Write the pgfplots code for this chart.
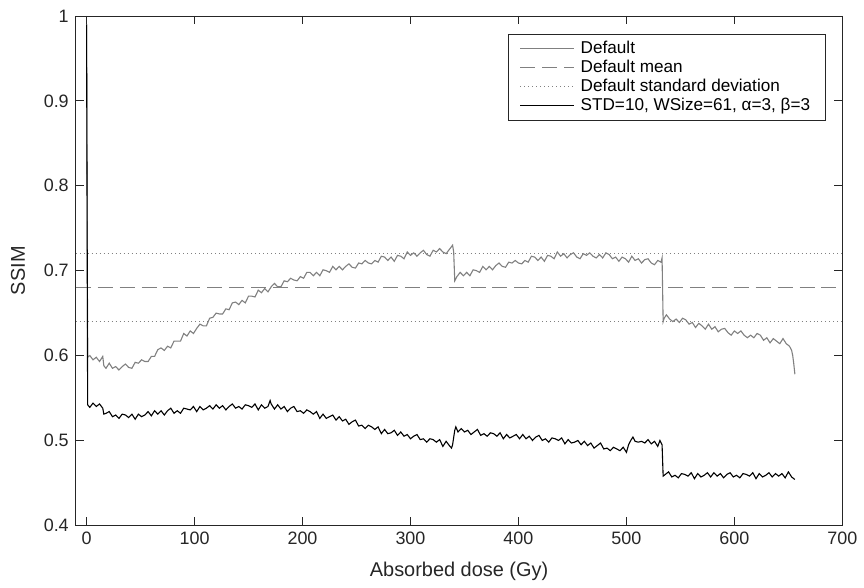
\documentclass[border=0pt]{standalone}
\usepackage{fontspec}
\setmainfont{Liberation Sans}
\usepackage{pgfplots}
\pgfplotsset{compat=1.18}

\definecolor{defgray}{RGB}{128,128,128}
\definecolor{axgray}{RGB}{38,38,38}

\begin{document}
\begin{tikzpicture}
\begin{axis}[
  scale only axis,
  width=384.5pt,
  height=255.5pt,
  xmin=-10, xmax=700,
  ymin=0.4, ymax=1,
  xtick={0,100,...,700},
  ytick={0.4,0.5,...,1.0},
  yticklabels={0.4,0.5,0.6,0.7,0.8,0.9,1},
  tick align=inside,
  major tick length=4pt,
  axis line style={axgray, line width=0.4pt},
  tick style={axgray, line width=0.4pt},
  /pgf/number format/assume math mode=true,
  tick label style={font=\fontsize{9}{10}\selectfont, text=axgray},
  xlabel={Absorbed dose (Gy)},
  ylabel={SSIM},
  label style={font=\fontsize{10}{12}\selectfont, text=axgray},
  xlabel style={at={(axis description cs:0.5,-0.090)}, anchor=center},
  ylabel style={at={(axis description cs:-0.0754,0.5)}, anchor=center},
  legend cell align=left,
  legend image code/.code={\draw[#1] (0pt,0pt) -- (27pt,0pt);},
  legend style={at={(rel axis cs:0.978,0.965)}, anchor=north east,
    draw=axgray, line width=0.4pt, font=\fontsize{8.6}{9.6}\selectfont,
    inner xsep=5.5pt, inner ysep=1.5pt, row sep=-2.2pt,
    /tikz/every odd column/.append style={column sep=1pt}},
]
\addplot[defgray, line width=0.55pt] coordinates {
(0,0.990)(1,0.598)(3,0.600)(6,0.595)(9,0.598)(12,0.593)(15,0.599)(16,0.588)(18,0.585)(21,0.591)(24,0.585)(27,0.587)(30,0.583)(33,0.587)(36,0.590)(39,0.586)(42,0.585)(45,0.592)(48,0.591)(51,0.595)(54,0.593)(57,0.593)(60,0.599)(63,0.599)(66,0.607)(69,0.609)(72,0.606)(75,0.611)(78,0.609)(81,0.617)(84,0.617)(87,0.617)(90,0.626)(93,0.623)(96,0.629)(99,0.626)(102,0.632)(105,0.637)(108,0.635)(111,0.635)(114,0.644)(117,0.645)(120,0.650)(123,0.649)(126,0.649)(129,0.655)(132,0.654)(135,0.662)(138,0.663)(141,0.660)(144,0.665)(147,0.662)(150,0.670)(153,0.670)(156,0.669)(159,0.677)(162,0.674)(165,0.679)(168,0.675)(171,0.681)(174,0.685)(177,0.681)(180,0.681)(183,0.688)(186,0.687)(189,0.691)(192,0.689)(195,0.688)(198,0.693)(201,0.691)(204,0.698)(207,0.698)(210,0.694)(213,0.698)(216,0.694)(219,0.701)(222,0.700)(225,0.698)(228,0.705)(231,0.701)(234,0.705)(237,0.701)(240,0.705)(243,0.708)(246,0.704)(249,0.703)(252,0.709)(255,0.708)(258,0.712)(261,0.709)(264,0.708)(267,0.712)(270,0.710)(273,0.717)(276,0.716)(279,0.712)(282,0.716)(285,0.711)(288,0.718)(291,0.717)(294,0.714)(297,0.722)(300,0.718)(303,0.721)(306,0.717)(309,0.721)(312,0.724)(315,0.719)(318,0.717)(321,0.724)(324,0.722)(327,0.726)(330,0.722)(333,0.720)(336,0.725)(339,0.730)(340,0.722)(341,0.688)(343,0.693)(346,0.698)(349,0.694)(352,0.698)(355,0.694)(358,0.701)(361,0.700)(364,0.698)(367,0.705)(370,0.701)(373,0.705)(376,0.701)(379,0.706)(382,0.709)(385,0.705)(388,0.704)(391,0.710)(394,0.709)(397,0.712)(400,0.709)(403,0.708)(406,0.712)(409,0.710)(412,0.717)(415,0.716)(418,0.712)(421,0.716)(424,0.711)(427,0.718)(430,0.717)(433,0.714)(436,0.722)(439,0.717)(442,0.720)(445,0.715)(448,0.719)(451,0.721)(454,0.716)(457,0.714)(460,0.720)(463,0.718)(466,0.721)(469,0.717)(472,0.715)(475,0.719)(478,0.715)(481,0.721)(484,0.719)(487,0.714)(490,0.716)(493,0.711)(496,0.716)(499,0.714)(502,0.710)(505,0.717)(508,0.712)(511,0.714)(514,0.709)(517,0.713)(520,0.714)(523,0.709)(526,0.707)(529,0.712)(532,0.710)(533,0.715)(534,0.640)(535,0.644)(537,0.648)(540,0.643)(543,0.640)(546,0.643)(549,0.639)(552,0.644)(555,0.642)(558,0.637)(561,0.639)(564,0.633)(567,0.638)(570,0.635)(573,0.631)(576,0.637)(579,0.631)(582,0.634)(585,0.628)(588,0.631)(591,0.632)(594,0.627)(597,0.624)(600,0.629)(603,0.626)(606,0.629)(609,0.624)(612,0.621)(615,0.624)(618,0.621)(621,0.626)(624,0.624)(627,0.618)(630,0.621)(633,0.615)(636,0.620)(639,0.617)(642,0.614)(645,0.620)(648,0.614)(651,0.611)(653,0.606)(654,0.600)(655,0.590)(656,0.578)
};
\addlegendentry{Default}
\addplot[defgray, line width=0.55pt, dash pattern=on 7.5pt off 3.5pt] coordinates {(-10,0.68) (700,0.68)};
\addlegendentry{Default mean}
\addplot[defgray, line width=0.5pt, dash pattern=on 0.5pt off 1.5pt] coordinates {(-10,0.72) (700,0.72)};
\addlegendentry{Default standard deviation}
\addplot[defgray, line width=0.5pt, dash pattern=on 0.5pt off 1.5pt, forget plot] coordinates {(-10,0.64) (700,0.64)};
\addplot[black, line width=0.55pt] coordinates {
(0,0.990)(1,0.542)(3,0.539)(6,0.544)(9,0.540)(12,0.543)(15,0.538)(16,0.531)(18,0.532)(21,0.534)(24,0.528)(27,0.530)(30,0.526)(33,0.531)(36,0.530)(39,0.527)(42,0.531)(45,0.525)(48,0.531)(51,0.528)(54,0.530)(57,0.534)(60,0.529)(63,0.535)(66,0.531)(69,0.535)(72,0.530)(75,0.535)(78,0.538)(81,0.532)(84,0.535)(87,0.532)(90,0.538)(93,0.537)(96,0.536)(99,0.540)(102,0.534)(105,0.540)(108,0.536)(111,0.538)(114,0.541)(117,0.537)(120,0.542)(123,0.538)(126,0.541)(129,0.536)(132,0.540)(135,0.543)(138,0.538)(141,0.540)(144,0.537)(147,0.542)(150,0.541)(153,0.539)(156,0.543)(159,0.536)(162,0.542)(165,0.538)(168,0.540)(170,0.547)(171,0.543)(174,0.537)(177,0.542)(180,0.537)(183,0.540)(186,0.534)(189,0.538)(192,0.540)(195,0.534)(198,0.535)(201,0.532)(204,0.536)(207,0.534)(210,0.531)(213,0.534)(216,0.526)(219,0.531)(222,0.526)(225,0.528)(228,0.530)(231,0.524)(234,0.528)(237,0.523)(240,0.525)(243,0.519)(246,0.522)(249,0.524)(252,0.517)(255,0.518)(258,0.514)(261,0.518)(264,0.516)(267,0.513)(270,0.516)(273,0.508)(276,0.513)(279,0.508)(282,0.509)(285,0.512)(288,0.506)(291,0.510)(294,0.505)(297,0.507)(300,0.502)(303,0.505)(306,0.507)(309,0.501)(312,0.502)(315,0.498)(318,0.502)(321,0.501)(324,0.498)(327,0.501)(330,0.493)(333,0.499)(336,0.494)(338,0.491)(339,0.495)(341,0.512)(342,0.516)(344,0.510)(347,0.514)(350,0.510)(353,0.512)(356,0.507)(359,0.510)(362,0.513)(365,0.506)(368,0.508)(371,0.505)(374,0.509)(377,0.508)(380,0.505)(383,0.509)(386,0.502)(389,0.507)(392,0.503)(395,0.505)(398,0.507)(401,0.502)(404,0.507)(407,0.502)(410,0.505)(413,0.500)(416,0.504)(419,0.506)(422,0.500)(425,0.502)(428,0.498)(431,0.503)(434,0.502)(437,0.500)(440,0.503)(443,0.496)(446,0.501)(449,0.497)(452,0.498)(455,0.500)(458,0.495)(461,0.499)(464,0.494)(467,0.497)(470,0.491)(473,0.494)(476,0.497)(479,0.490)(482,0.491)(485,0.488)(488,0.492)(491,0.490)(494,0.488)(497,0.492)(500,0.486)(502,0.495)(504,0.500)(506,0.504)(508,0.499)(511,0.498)(514,0.499)(517,0.497)(520,0.501)(523,0.496)(526,0.499)(529,0.493)(531,0.500)(533,0.495)(534,0.458)(536,0.460)(539,0.463)(542,0.457)(545,0.459)(548,0.456)(551,0.461)(554,0.460)(557,0.458)(560,0.462)(563,0.455)(566,0.461)(569,0.457)(572,0.459)(575,0.462)(578,0.457)(581,0.462)(584,0.458)(587,0.461)(590,0.456)(593,0.460)(596,0.462)(599,0.457)(602,0.459)(605,0.456)(608,0.461)(611,0.460)(614,0.458)(617,0.462)(620,0.455)(623,0.461)(626,0.457)(629,0.459)(632,0.462)(635,0.457)(638,0.461)(641,0.458)(644,0.461)(647,0.456)(650,0.463)(653,0.457)(656,0.454)
};
\addlegendentry{STD=10, WSize=61, α=3, β=3}
\end{axis}
% page margins around the axis box, as in the reference figure
\path (current axis.south west) ++(-38pt,-30pt) coordinate (pa);
\path (current axis.north east) ++(9.5pt,8pt) coordinate (pb);
\path (pa) rectangle (pb);
\end{tikzpicture}
\end{document}
